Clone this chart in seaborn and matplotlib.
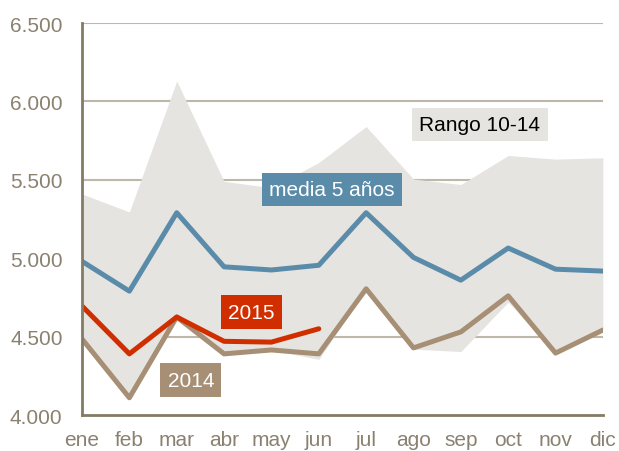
import numpy as np
import pandas as pd
import matplotlib
matplotlib.use("Agg")
import matplotlib.pyplot as plt
import seaborn as sns

meses = ["ene", "feb", "mar", "abr", "may", "jun", "jul", "ago", "sep", "oct", "nov", "dic"]
media_5 = [4980, 4790, 5290, 4945, 4925, 4955, 5290, 5005, 4860, 5065, 4930, 4918]
serie_2015 = [4695, 4390, 4625, 4470, 4465, 4550]
serie_2014 = [4485, 4110, 4625, 4390, 4415, 4390, 4805, 4428, 4530, 4760, 4395, 4542]
rango_max = [5410, 5295, 6130, 5490, 5450, 5610, 5840, 5505, 5470, 5655, 5632, 5640]
rango_min = [4485, 4110, 4625, 4390, 4415, 4355, 4805, 4420, 4405, 4720, 4395, 4542]
y_ticks = [4000, 4500, 5000, 5500, 6000, 6500]
y_labels = ["4.000", "4.500", "5.000", "5.500", "6.000", "6.500"]

c_blue = "#5a8ba9"
c_red = "#d12e00"
c_tan = "#a68f74"
c_band = "#e6e4e1"
c_grid = "#bfb7a8"
c_axis = "#857a64"
c_text = "#8a8170"

sns.set_style("white")
plt.rcParams['font.family'] = ['Liberation Sans', 'DejaVu Sans']

df = pd.DataFrame({"mes": np.arange(12), "media": media_5, "s2014": serie_2014})
df15 = pd.DataFrame({"mes": np.arange(6), "s2015": serie_2015})

fig = plt.figure(figsize=(6.19, 4.52), dpi=100)
ax = fig.add_axes([0.1325, 0.0796, 0.8415, 0.8673])

ax.fill_between(df["mes"], rango_min, rango_max, color=c_band, lw=0, zorder=1)
for t in y_ticks[1:]:
    ax.axhline(t, color=c_grid, lw=1.5, zorder=0.5)

sns.lineplot(data=df, x="mes", y="s2014", color=c_tan, lw=3.6, ax=ax, zorder=3)
sns.lineplot(data=df, x="mes", y="media", color=c_blue, lw=3.6, ax=ax, zorder=3)
sns.lineplot(data=df15, x="mes", y="s2015", color=c_red, lw=3.6, ax=ax, zorder=4)

ax.set_xlim(0, 11)
ax.set_ylim(4000, 6500)
ax.set_xticks(range(12))
ax.set_xticklabels(meses)
ax.set_yticks(y_ticks)
ax.set_yticklabels(y_labels)
ax.set_xlabel("")
ax.set_ylabel("")
ax.tick_params(axis="both", length=0, labelsize=15, labelcolor=c_text)
ax.tick_params(axis="y", pad=14)
ax.tick_params(axis="x", pad=11)

for s in ["top", "right"]:
    ax.spines[s].set_visible(False)
for s in ["left", "bottom"]:
    ax.spines[s].set_color(c_axis)
    ax.spines[s].set_linewidth(2)
    ax.spines[s].set_zorder(5)

box = "square,pad=0.35"
ax.text(8.4, 5853, "Rango 10-14", fontsize=15, color="black", ha="center", va="center",
        bbox=dict(boxstyle=box, fc=c_band, ec="none"), zorder=6)
ax.text(5.28, 5439, "media 5 años", fontsize=15, color="white", ha="center", va="center",
        bbox=dict(boxstyle=box, fc=c_blue, ec="none"), zorder=6)
ax.text(3.57, 4656, "2015", fontsize=15, color="white", ha="center", va="center",
        bbox=dict(boxstyle=box, fc=c_red, ec="none"), zorder=6)
ax.text(2.3, 4223, "2014", fontsize=15, color="white", ha="center", va="center",
        bbox=dict(boxstyle=box, fc=c_tan, ec="none"), zorder=6)

fig.savefig("out.png", dpi=100)
